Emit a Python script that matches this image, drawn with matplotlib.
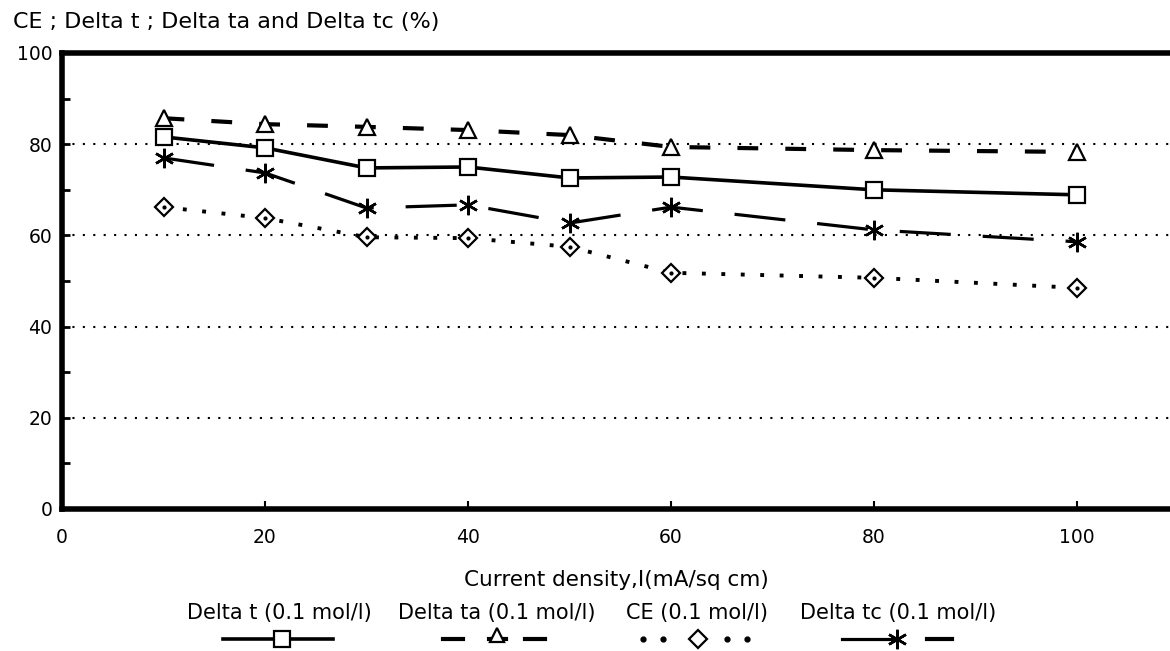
import matplotlib
matplotlib.use("Agg")
import matplotlib.pyplot as plt
from matplotlib.lines import Line2D
from matplotlib.ticker import MultipleLocator

plt.rcParams['font.family'] = ['DejaVu Sans']

# Measured values at 0.1 mol/l
current_density = [10, 20, 30, 40, 50, 60, 80, 100]
delta_t = [81.6, 79.2, 74.8, 75.0, 72.6, 72.8, 70.0, 68.9]
delta_ta = [85.7, 84.4, 83.8, 83.1, 82.0, 79.4, 78.7, 78.3]
ce = [66.2, 63.8, 59.6, 59.4, 57.5, 51.8, 50.7, 48.5]
delta_tc = [77.0, 73.7, 66.0, 66.7, 62.7, 66.2, 61.2, 58.6]

series_labels = ["Delta t (0.1 mol/l)", "Delta ta (0.1 mol/l)",
                 "CE (0.1 mol/l)", "Delta tc (0.1 mol/l)"]
y_title = "CE ; Delta t ; Delta ta and Delta tc (%)"
x_title = "Current density,I(mA/sq cm)"

W, H = 1170, 651
fig = plt.figure(figsize=(W / 100, H / 100), dpi=100)
ax = fig.add_axes([62 / W, 142 / H, (W - 62) / W, (509 - 53) / H])

FS_TICK = 13.5
FS_TEXT = 15
FS_TITLE = 16

# series styles
sty_t = dict(color='black', lw=2.6, ls='-', marker='s', ms=11, mfc='white',
             mec='black', mew=1.6)
sty_ta = dict(color='black', lw=3.0, ls=(0, (5, 6.5)), marker='^', ms=11,
              mfc='white', mec='black', mew=1.6)
sty_ce = dict(color='black', lw=2.8, ls=(0, (1, 4)), marker='D', ms=9,
              mfc='white', mec='black', mew=1.6)
sty_tc = dict(color='black', lw=2.3, ls=(0, (16, 10)), marker=(6, 2, 0), ms=14,
              mec='black', mew=1.8)

ax.plot(current_density, delta_t, **sty_t, zorder=4)
ax.plot(current_density, delta_ta, **sty_ta, zorder=4)
ax.plot(current_density, ce, **sty_ce, zorder=4)
ax.plot(current_density, ce, ls='none', marker='.', ms=4, color='black', zorder=5)
ax.plot(current_density, delta_tc, **sty_tc, zorder=4)

ax.set_xlim(0, (W - 62) / 10.15)
ax.set_ylim(0, 100)
ax.xaxis.set_major_locator(MultipleLocator(20))
ax.yaxis.set_major_locator(MultipleLocator(20))
ax.yaxis.set_minor_locator(MultipleLocator(10))

ax.grid(axis='y', which='major', color='black', ls=(0, (1, 4)), lw=1.5)
ax.set_axisbelow(True)

for side in ('left', 'bottom', 'top'):
    ax.spines[side].set_linewidth(4)
ax.spines['right'].set_visible(False)

ax.tick_params(axis='y', which='major', direction='in', length=6, width=2,
               labelsize=FS_TICK, pad=7)
ax.tick_params(axis='y', which='minor', direction='in', length=6, width=2)
ax.tick_params(axis='x', which='major', direction='in', length=6, width=1.5,
               labelsize=FS_TICK, pad=14, top=False)

ax.set_xlabel(x_title, fontsize=15.5, labelpad=16)

fig.text(13 / W, 1 - 22 / H, y_title, fontsize=FS_TITLE, ha='left', va='center')


# legend: label text above each key
def fx(px):
    return px / W


def fy(py):
    return 1 - py / H


text_y = 613
key_y = 639
centers = [279, 497, 697, 898]
for label, cx in zip(series_labels, centers):
    fig.text(fx(cx), fy(text_y), label, fontsize=FS_TEXT, ha='center', va='center')

keys = []
# Delta t key
keys.append(Line2D([fx(223), fx(333)], [fy(key_y)] * 2, color='black', lw=2.6))
keys.append(Line2D([fx(282)], [fy(key_y)], ls='none', marker='s', ms=11,
                   mfc='white', mec='black', mew=1.6))
# Delta ta key
keys.append(Line2D([fx(443), fx(463)], [fy(key_y)] * 2, color='black', lw=3.0))
keys.append(Line2D([fx(525), fx(545)], [fy(key_y)] * 2, color='black', lw=3.0))
keys.append(Line2D([fx(489), fx(506)], [fy(key_y)] * 2, color='black', lw=3.0))
keys.append(Line2D([fx(497)], [fy(key_y - 4)], ls='none', marker='^', ms=10,
                   mfc='white', mec='black', mew=1.6))
# CE key
keys.append(Line2D([fx(643), fx(663), fx(727), fx(747)], [fy(key_y)] * 4,
                   ls='none', marker='o', ms=3.5, color='black'))
keys.append(Line2D([fx(698)], [fy(key_y)], ls='none', marker='D', ms=9,
                   mfc='white', mec='black', mew=1.6))
# Delta tc key
keys.append(Line2D([fx(842), fx(895)], [fy(key_y)] * 2, color='black', lw=2.3))
keys.append(Line2D([fx(927), fx(952)], [fy(key_y)] * 2, color='black', lw=3.0))
keys.append(Line2D([fx(897)], [fy(key_y)], ls='none', marker=(6, 2, 0), ms=14,
                   mec='black', mew=1.8))
for k in keys:
    k.set_transform(fig.transFigure)
    fig.add_artist(k)

fig.savefig("out.png", dpi=100, facecolor='white')
